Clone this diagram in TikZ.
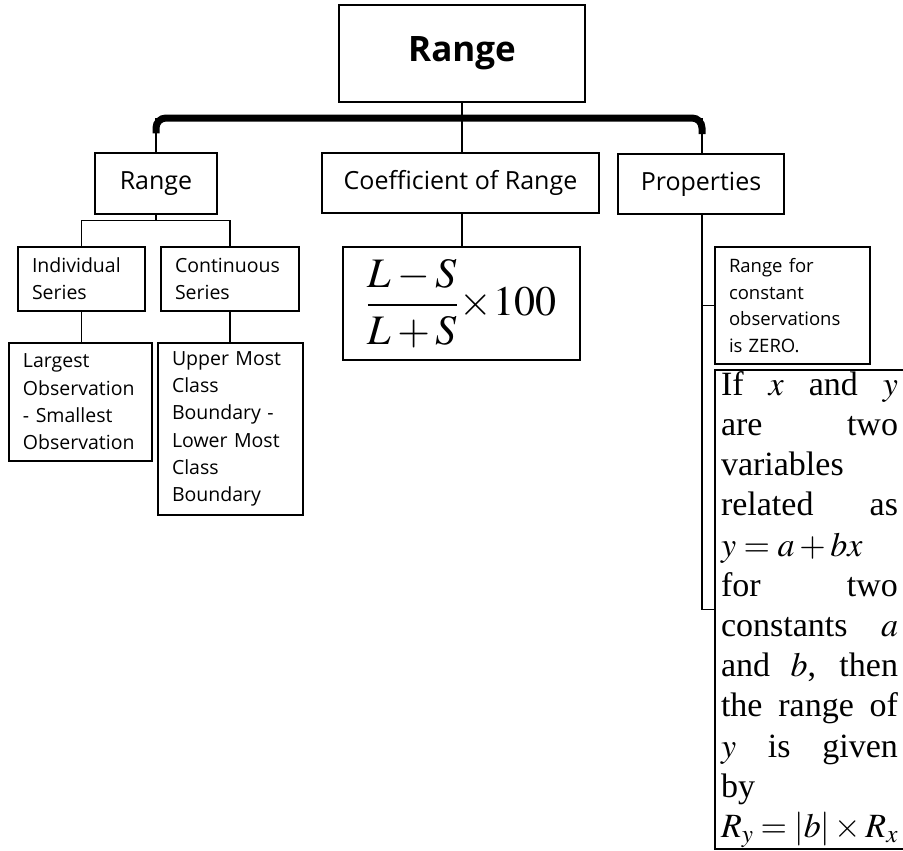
\documentclass[tikz,border=0pt]{standalone}
\usepackage{mathptmx}
\usepackage{fontspec}
\setmainfont{Liberation Serif}
\newfontfamily\opensans{Open Sans}
\begin{document}
\begin{tikzpicture}[x=1pt, y=-1pt,
    box/.style={draw, line width=1.3pt, inner sep=0pt,
        font=\opensans\fontsize{25}{34}\selectfont},
    leaf/.style={draw, line width=1.3pt, inner xsep=14pt, inner ysep=0pt,
        align=left, font=\opensans\fontsize{19.5}{27.3}\selectfont},
    link/.style={line width=1.3pt},
    bus/.style={line width=7pt, rounded corners=10pt}]
    % 1. Khung hình
    \useasboundingbox (0,0) rectangle (903,851);

    % 2. Ô tiêu đề và ba nhánh chính
    \node[box, minimum width=246pt, minimum height=97pt,
        font=\opensans\bfseries\fontsize{35}{42}\selectfont] (top) at (462,53.5) {Range};
    \node[box, minimum width=122pt, minimum height=61pt] (rng) at (156,183.5) {Range};
    \node[box, minimum width=277pt, minimum height=60pt] (coef) at (460.5,183) {Coefficient of Range};
    \node[box, minimum width=166pt, minimum height=60pt] (prop) at (701,184) {Properties};

    % 3. Thanh ngang đậm nối các nhánh
    \coordinate (bl) at (156,118);
    \coordinate (br) at (702,118);
    \draw[bus] (rng.north) ++(0,-19) |- (br) -- ++(0,16);
    \draw[link] (rng.north) -- (bl);
    \draw[link] (prop.north -| br) -- (br);
    \draw[link] (top.south) -- (top.south |- coef.north);

    % 4. Nhánh Range
    \node[leaf, text width=99pt, minimum height=64pt] (ind) at (81.5,279) {Individual\\Series};
    \node[leaf, text width=110pt, minimum height=64pt] (cont) at (230,279) {Continuous\\Series};
    \node[leaf, text width=115pt, minimum height=118pt] (larg) at (80.5,402)
        {Largest\\Observation\\- Smallest\\Observation};
    \node[leaf, text width=117pt, minimum height=172pt] (upper) at (230.5,429)
        {Upper Most\\Class\\Boundary -\\Lower Most\\Class\\Boundary};
    \coordinate (fork) at ([yshift=-6pt]rng.south);
    \draw[link] (rng.south) -- (fork);
    \draw[link] (fork) -| (ind.north);
    \draw[link] (fork) -| (cont.north);
    \draw[link] (ind.south) -- (ind.south |- larg.north);
    \draw[link] (cont.south) -- (cont.south |- upper.north);

    % 5. Nhánh Coefficient of Range
    \node[draw, line width=1.3pt, minimum width=237pt, minimum height=113pt, inner sep=0pt,
        font=\fontsize{42}{50}\selectfont] (form) at (461.5,303.5)
        {$\displaystyle\frac{L-S}{L+S}\!\times\!100$};
    \draw[link] (top.south |- coef.south) -- (top.south |- form.north);

    % 6. Nhánh Properties
    \node[leaf, text width=127pt, minimum height=117pt,
        font=\opensans\fontsize{18.5}{26.5}\selectfont] (zero) at (792.5,305.5)
        {Range for\\constant\\observations\\is ZERO.};
    \node[draw, line width=1.3pt, text width=177pt, inner xsep=6pt, inner ysep=0pt,
        minimum height=479pt, align=justify,
        font=\fontsize{34}{40.2}\selectfont] (big) at (809.5,609.5)
        {If $x$ and $y$ \linebreak are two \linebreak variables\\
         related as \linebreak $y=a+bx$\\
         for two \linebreak constants $a$ \linebreak and $b$, then \linebreak
         the range of \linebreak $y$ is given \linebreak by\\
         $R_y=\left|b\right|\times R_x$};
    \coordinate (trunk) at (prop.south -| br);
    \draw[link] (trunk) |- (big.west);
    \draw[link] (trunk |- zero.west) -- (zero.west);
\end{tikzpicture}
\end{document}
